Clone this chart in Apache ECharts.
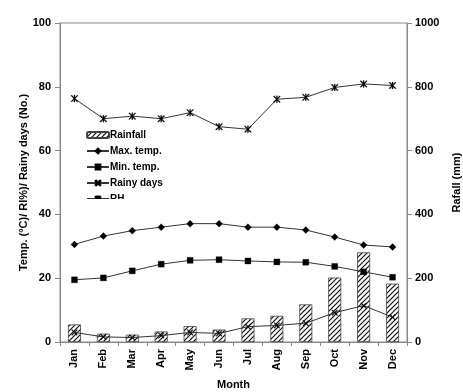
<!DOCTYPE html>
<html><head><meta charset="utf-8">
<script src="https://cdn.jsdelivr.net/npm/echarts@6/dist/echarts.min.js"></script>
<style>html,body{margin:0;padding:0;background:#fff}#c{width:463px;height:392px}</style>
</head><body><div id="c"></div>
<script>
const months = ['Jan','Feb','Mar','Apr','May','Jun','Jul','Aug','Sep','Oct','Nov','Dec'];
const rainfall = [55,26,23,33,50,39,74,82,118,202,281,183];
const maxTemp = [30.6,33.2,34.9,36.0,37.1,37.1,36.0,36.0,35.1,32.9,30.4,29.8];
const minTemp = [19.5,20.1,22.3,24.4,25.6,25.8,25.4,25.1,25.0,23.7,22.0,20.3];
const rainyDays = [3.0,1.6,1.4,2.0,3.0,2.7,4.8,5.2,5.9,9.2,11.4,7.8];
const rh = [76.3,70.0,70.8,70.0,71.9,67.5,66.7,76.1,76.7,79.8,80.9,80.4];
const leftTicks = [0,20,40,60,80,100];
const rightTicks = [0,200,400,600,800,1000];

const F = '"Liberation Sans", Arial, sans-serif';
const pc = document.createElement('canvas');
pc.width = 5; pc.height = 5;
const g = pc.getContext('2d');
g.fillStyle = '#fff'; g.fillRect(0,0,5,5);
g.strokeStyle = '#111'; g.lineWidth = 1.2;
g.beginPath();
g.moveTo(-1,6); g.lineTo(6,-1);
g.moveTo(-1,1); g.lineTo(1,-1);
g.moveTo(4,6); g.lineTo(6,4);
g.stroke();

const xSym = 'path://M0,1L1,0L5,4L9,0L10,1L6,5L10,9L9,10L5,6L1,10L0,9L4,5Z';
const aSym = 'path://M0,1L1,0L5,4L9,0L10,1L6,5L10,9L9,10L5,6L1,10L0,9L4,5ZM4.3,0L5.7,0L5.7,10L4.3,10Z';

const lineStyle = {color:'#333', width:1};
function lineSeries(name, data, symbol, size){
  return {name, type:'line', data, yAxisIndex:0, symbol, symbolSize:size,
    lineStyle, itemStyle:{color:'#000', borderColor:'#000', borderWidth:0.3}, z:3};
}
const lbl = {fontFamily:F, fontWeight:'bold', fontSize:11, color:'#000'};
const chart = echarts.init(document.getElementById('c'));
chart.setOption({
  animation:false,
  grid:{left:60, right:56, top:23, bottom:50, show:true, borderColor:'#888', borderWidth:1, backgroundColor:'transparent', containLabel:false, outerBoundsMode:'none'},
  legend:{orient:'vertical', left:81, top:124, itemWidth:22, itemHeight:6, itemGap:4,
    textStyle:{fontFamily:F, fontWeight:'bold', fontSize:10, color:'#000', lineHeight:12, padding:[0,0,0,-4]},
    data:['Rainfall','Max. temp.','Min. temp.','Rainy days','RH']},
  xAxis:{type:'category', data:months, boundaryGap:true,
    axisLine:{lineStyle:{color:'#888'}}, axisTick:{show:true, length:4, lineStyle:{color:'#888'}},
    axisLabel:Object.assign({rotate:90, margin:7}, lbl),
    name:'Month', nameLocation:'middle', nameGap:37, nameTextStyle:lbl},
  yAxis:[{type:'value', min:0, max:100, interval:20, splitLine:{show:false},
    axisLine:{show:true, lineStyle:{color:'#888'}}, axisTick:{show:true, length:5, lineStyle:{color:'#888'}},
    axisLabel:Object.assign({margin:9, formatter:v=>String(v)}, lbl),
    name:'Temp. (°C)/ Rl%)/ Rainy days (No.)', nameLocation:'middle', nameGap:31, nameRotate:90,
    nameMoveOverlap:false, nameTextStyle:lbl},
   {type:'value', min:0, max:1000, interval:200, position:'right', splitLine:{show:false},
    axisLine:{show:true, lineStyle:{color:'#888'}}, axisTick:{show:true, length:5, lineStyle:{color:'#888'}},
    axisLabel:Object.assign({margin:8, formatter:v=>String(v)}, lbl),
    name:'Rafall (mm)', nameLocation:'middle', nameGap:44, nameRotate:90,
    nameMoveOverlap:false, nameTextStyle:lbl}],
  graphic:[{type:'rect', left:80, top:199, shape:{width:70, height:12}, style:{fill:'#fff'}, z:100}],
  series:[
    {name:'Rainfall', type:'bar', data:rainfall, yAxisIndex:1, barWidth:13,
      itemStyle:{color:{image:pc, repeat:'repeat'}, borderColor:'#444', borderWidth:0.8}, z:2},
    lineSeries('Max. temp.', maxTemp, 'diamond', 7),
    lineSeries('Min. temp.', minTemp, 'rect', 6),
    lineSeries('Rainy days', rainyDays, xSym, 6),
    lineSeries('RH', rh, aSym, 7)
  ]
});
</script></body></html>
